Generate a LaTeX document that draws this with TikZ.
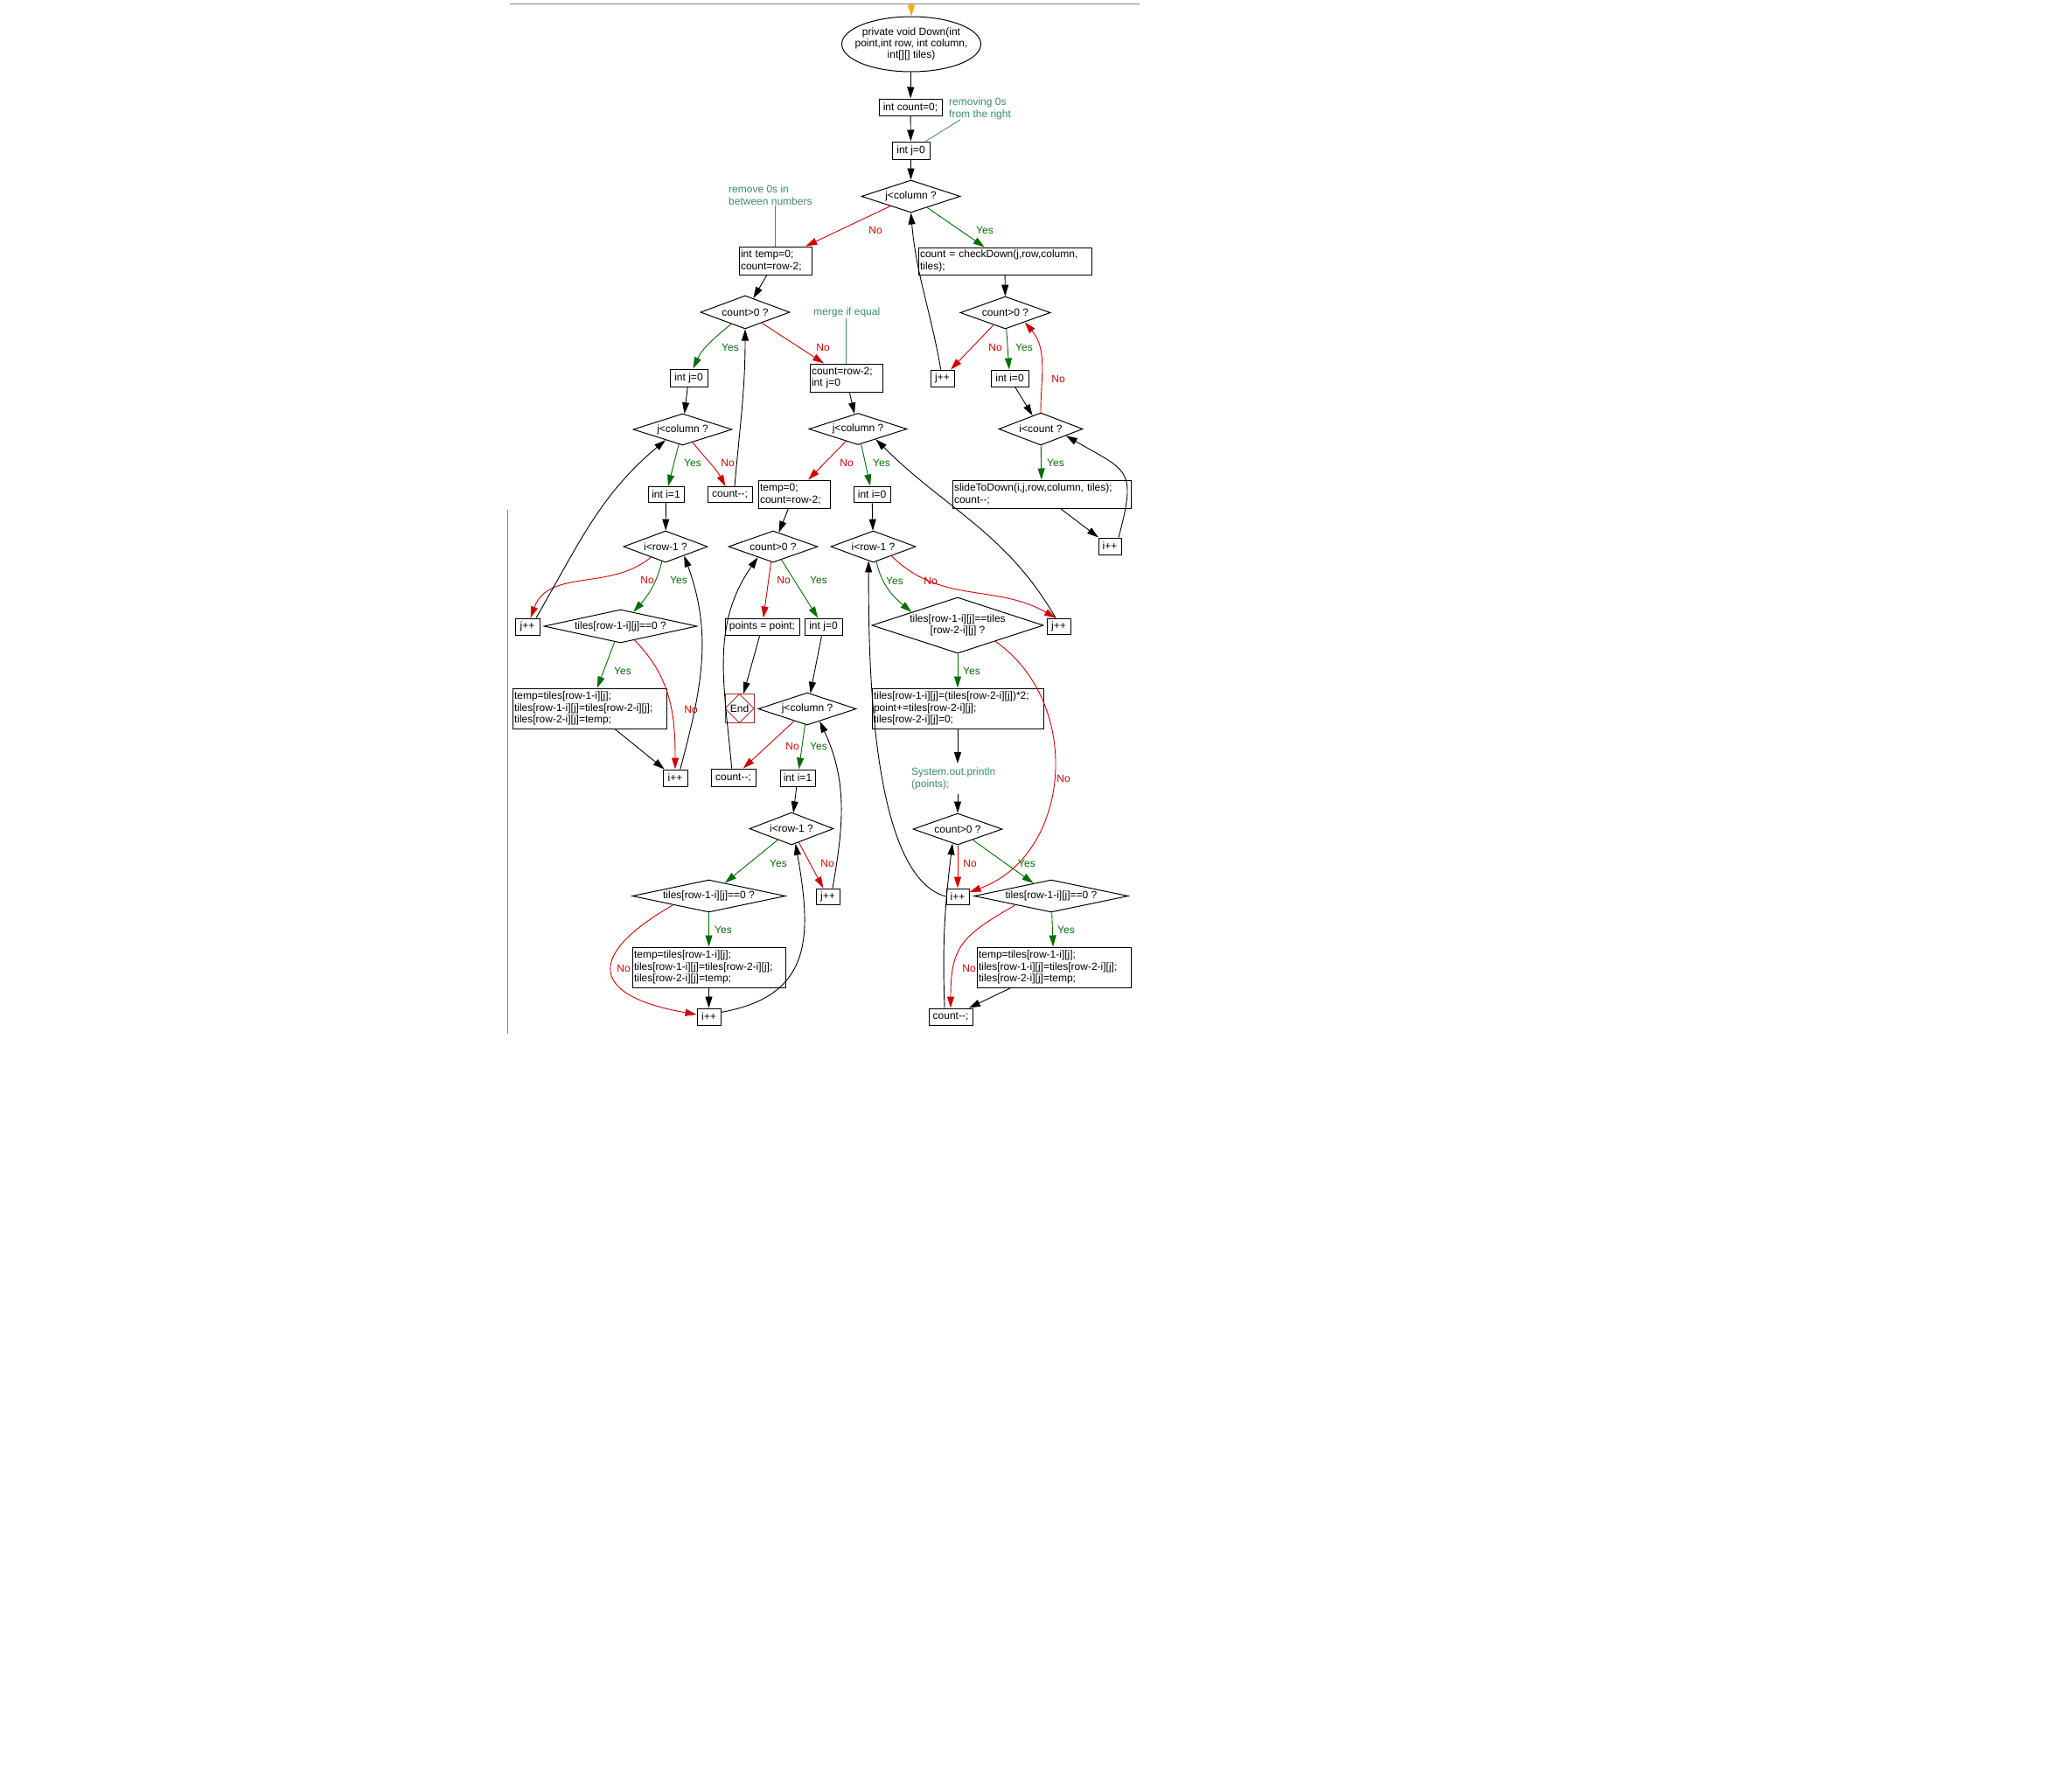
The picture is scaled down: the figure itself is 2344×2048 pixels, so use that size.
\documentclass[tikz,border=0pt]{standalone}
\usepackage{fontspec}
\setmainfont{Liberation Sans}
\usetikzlibrary{arrows.meta,shapes.geometric}

\definecolor{noRed}{RGB}{210,0,0}
\definecolor{yesGreen}{RGB}{0,110,0}
\definecolor{noteTeal}{RGB}{60,140,110}
\definecolor{endRed}{RGB}{170,40,40}
\definecolor{entryOrange}{RGB}{255,170,0}
\definecolor{frameGray}{RGB}{128,128,128}

\tikzset{
	every node/.append style = { font = \fontsize{12pt}{13.3pt}\selectfont },
	proc/.style = { draw, rectangle, line width = 1pt, inner sep = 0pt },
	procl/.style = { proc, align = left, inner xsep = 2pt },
	decision/.style = { draw, diamond, line width = 1pt, inner sep = 0pt, aspect = 3 },
	terminal/.style = { draw, ellipse, line width = 1pt, align = center, inner xsep = -20pt, inner ysep = 0pt },
	endbox/.style = { draw = endRed, rectangle, line width = 1pt, minimum size = 33pt, inner sep = 0pt,
		path picture = { \draw [endRed, line width = 1pt] (path picture bounding box.north) -- (path picture bounding box.east) -- (path picture bounding box.south) -- (path picture bounding box.west) -- cycle; } },
	note/.style = { text = noteTeal, align = left, inner sep = 0pt, anchor = north west },
	noteline/.style = { draw = noteTeal, line width = 0.8pt },
	flow/.style = { draw, line width = 0.9pt, -{Triangle[length = 13pt, width = 8pt]} },
	noflow/.style = { flow, draw = noRed },
	yesflow/.style = { flow, draw = yesGreen },
	entryarrow/.style = { flow, draw = entryOrange },
	nolabel/.style = { text = noRed, inner sep = 0pt },
	yeslabel/.style = { text = yesGreen, inner sep = 0pt }
}

\begin{document}
\begin{tikzpicture}[x = 1pt, y = -1pt]
		\fill [white] ( 0, 0 ) rectangle ( 2344, 2048 );
		\useasboundingbox ( 0, 0 ) rectangle ( 2344, 2048 );

		% рамка
		\draw [frameGray, line width = 1.2pt] ( 583, 4.5 ) -- ( 1303, 4.5 );
		\draw [frameGray, line width = 1pt] ( 580.5, 583 ) -- ( 580.5, 1182 );

		% блоки
		\coordinate (entry) at ( 1042, 5 );
		\node (start) [terminal, minimum width = 159, minimum height = 63] at ( 1042, 50.5 ) {private void Down(int\\point,int row, int column,\\int[][] tiles)};
		\node (cnt0) [proc, minimum width = 72, minimum height = 19] at ( 1041, 122.5 ) {int count=0;};
		\node (note1) [note] at ( 1085, 112 ) {removing 0s\\from the right};
		\node (jinit) [proc, minimum width = 43, minimum height = 20] at ( 1041.5, 172 ) {int j=0};
		\node (d1) [decision, minimum width = 113, minimum height = 37] at ( 1041.5, 224.5 ) {j<column ?};
		\node (note2) [note] at ( 833, 212 ) {remove 0s in\\between numbers};
		\node (tempbox) [procl, text width = 79pt, minimum height = 32] at ( 886.5, 298 ) {int temp=0;\\count=row-2;};
		\node (checkbox) [procl, text width = 194pt, minimum height = 31] at ( 1149, 298.5 ) {count = checkDown(j,row,column,\\tiles);};
		\node (d3) [decision, minimum width = 102, minimum height = 38] at ( 852, 357 ) {count>0 ?};
		\node (d2) [decision, minimum width = 103, minimum height = 37] at ( 1149.5, 357.5 ) {count>0 ?};
		\node (note3) [note] at ( 930, 352 ) {merge if equal};
		\node (jinitL) [proc, minimum width = 43, minimum height = 20] at ( 787.5, 432 ) {int j=0};
		\node (cjbox) [procl, text width = 79pt, minimum height = 32] at ( 967.5, 432 ) {count=row-2;\\int j=0};
		\node (jnext1) [proc, minimum width = 27, minimum height = 19] at ( 1077.5, 432.5 ) {j++};
		\node (inext) [proc, minimum width = 43, minimum height = 19] at ( 1154.5, 432.5 ) {int i=0};
		\node (d4) [decision, minimum width = 113, minimum height = 36] at ( 780.5, 491 ) {j<column ?};
		\node (d8) [decision, minimum width = 112, minimum height = 36] at ( 981, 490.5 ) {j<column ?};
		\node (d14) [decision, minimum width = 96, minimum height = 37] at ( 1190, 490.5 ) {i<count ?};
		\node (iinitL) [proc, minimum width = 41, minimum height = 18] at ( 761.5, 565.5 ) {int i=1};
		\node (cntL) [proc, minimum width = 51, minimum height = 18] at ( 834.5, 565.5 ) {count-\kern0pt-;};
		\node (tempM) [procl, text width = 78pt, minimum height = 32] at ( 908, 565 ) {temp=0;\\count=row-2;};
		\node (iinitM) [proc, minimum width = 42, minimum height = 18] at ( 997, 565 ) {int i=0};
		\node (slidebox) [procl, text width = 200pt, minimum height = 32] at ( 1191, 565 ) {slideToDown(i,j,row,column, tiles);\\count-\kern0pt-;};
		\node (d5) [decision, minimum width = 96, minimum height = 36] at ( 761, 625 ) {i<row-1 ?};
		\node (d7) [decision, minimum width = 102, minimum height = 36] at ( 884, 625 ) {count>0 ?};
		\node (d12) [decision, minimum width = 97, minimum height = 36] at ( 998.5, 625 ) {i<row-1 ?};
		\node (inc4) [proc, minimum width = 26, minimum height = 19] at ( 1269, 624.5 ) {i++};
		\node (jnext2) [proc, minimum width = 28, minimum height = 19] at ( 603, 716.5 ) {j++};
		\node (d6) [decision, aspect = 4.7, minimum width = 175, minimum height = 38] at ( 709.5, 716 ) {tiles[row-1-i][j]==0 ?};
		\node (pointsbox) [proc, minimum width = 85, minimum height = 19] at ( 871.5, 716.5 ) {points = point;};
		\node (jinitM) [proc, minimum width = 43, minimum height = 19] at ( 941.5, 716.5 ) {int j=0};
		\node (d13) [decision, minimum width = 196, minimum height = 64, align = center] at ( 1095, 715 ) {tiles[row-1-i][j]==tiles\\{}[row-2-i][j] ?};
		\node (jnext4) [proc, minimum width = 27, minimum height = 18] at ( 1210.5, 716 ) {j++};
		\node (swapL) [procl, text width = 172pt, minimum height = 46] at ( 674, 810 ) {temp=tiles[row-1-i][j];\\tiles[row-1-i][j]=tiles[row-2-i][j];\\tiles[row-2-i][j]=temp;};
		\node (stop) [endbox] at ( 845.5, 810 ) {End};
		\node (d9) [decision, minimum width = 112, minimum height = 37] at ( 923, 810.5 ) {j<column ?};
		\node (mergebox) [procl, text width = 192pt, minimum height = 46] at ( 1095, 810 ) {tiles[row-1-i][j]=(tiles[row-2-i][j])*2;\\point+=tiles[row-2-i][j];\\tiles[row-2-i][j]=0;};
		\node (inc1) [proc, minimum width = 28, minimum height = 19] at ( 772, 889.5 ) {i++};
		\node (cntM) [proc, minimum width = 51, minimum height = 20] at ( 838.5, 889 ) {count-\kern0pt-;};
		\node (iinitMi) [proc, minimum width = 40, minimum height = 19] at ( 912, 889.5 ) {int i=1};
		\node (sysnote) [note, inner ysep = 5pt] at ( 1042, 873 ) {System.out.println\\(points);};
		\node (d10) [decision, minimum width = 96, minimum height = 37] at ( 905, 947.5 ) {i<row-1 ?};
		\node (d15) [decision, minimum width = 102, minimum height = 36] at ( 1095, 948 ) {count>0 ?};
		\node (d11) [decision, aspect = 4.7, minimum width = 175, minimum height = 37] at ( 810.5, 1024.5 ) {tiles[row-1-i][j]==0 ?};
		\node (jnext3) [proc, minimum width = 27, minimum height = 18] at ( 946.5, 1025 ) {j++};
		\node (inc3) [proc, minimum width = 26, minimum height = 18] at ( 1095, 1025 ) {i++};
		\node (d16) [decision, aspect = 4.7, minimum width = 176, minimum height = 37] at ( 1202, 1024.5 ) {tiles[row-1-i][j]==0 ?};
		\node (swapM) [procl, text width = 171pt, minimum height = 46] at ( 810.5, 1106 ) {temp=tiles[row-1-i][j];\\tiles[row-1-i][j]=tiles[row-2-i][j];\\tiles[row-2-i][j]=temp;};
		\node (swapR) [procl, text width = 172pt, minimum height = 46] at ( 1205, 1106 ) {temp=tiles[row-1-i][j];\\tiles[row-1-i][j]=tiles[row-2-i][j];\\tiles[row-2-i][j]=temp;};
		\node (inc2) [proc, minimum width = 27, minimum height = 19] at ( 810.5, 1162.5 ) {i++};
		\node (cnt3) [proc, minimum width = 50, minimum height = 19] at ( 1087, 1162.5 ) {count-\kern0pt-;};

		% удаление нулей справа
		\draw [entryarrow] (entry) -- (start);
		\draw [flow] (start) -- (cnt0);
		\draw [flow] (cnt0) -- (jinit);
		\draw [flow] (jinit) -- (d1);
		\draw [noteline] ([xshift = 13pt]note1.south west) -- ([xshift = -5pt]jinit.north east);
		\draw [yesflow] (d1) -- (checkbox) node (yes1) [yeslabel] at ( 1126, 263 ) {Yes};
		\draw [noflow] (d1) -- (tempbox) node (no1) [nolabel] at ( 1001, 263 ) {No};
		\draw [flow] (checkbox) -- (d2);
		\draw [yesflow] (d2) -- (inext) node (yes2) [yeslabel] at ( 1171, 397 ) {Yes};
		\draw [noflow] (d2) -- (jnext1) node (no2) [nolabel] at ( 1138, 397 ) {No};
		\draw [flow] (jnext1.100) to [ out = 100, in = -85 ] (d1.south);
		\draw [flow] (inext) -- (d14);
		\draw [yesflow] (d14) -- (slidebox) node (yes3) [yeslabel] at ( 1207, 529 ) {Yes};
		\draw [noflow] (d14.north) to [ out = 90, in = -50 ] (d2.-26) node (no3) [nolabel] at ( 1210, 433 ) {No};
		\draw [flow] (slidebox) -- (inc4);
		\draw [flow] (inc4.45) to [ out = 75, in = -30, looseness = 1.6 ] (d14.-15);

		% удаление нулей между числами
		\draw [noteline] (tempbox.north |- note2.south) -- (tempbox.north);
		\draw [flow] (tempbox) -- (d3);
		\draw [yesflow] (d3) to [ out = -140, in = 65 ] (jinitL) node (yes4) [yeslabel] at ( 835, 397 ) {Yes};
		\draw [noflow] (d3) -- (cjbox) node (no4) [nolabel] at ( 941, 397 ) {No};
		\draw [flow] (jinitL) -- (d4);
		\draw [yesflow] (d4) -- (iinitL) node (yes5) [yeslabel] at ( 792, 529 ) {Yes};
		\draw [noflow] (d4) to [ out = -52, in = 118 ] (cntL) node (no5) [nolabel] at ( 832, 529 ) {No};
		\draw [flow] (cntL.60) to [ out = 85, in = -90 ] (d3.south);
		\draw [flow] (iinitL) -- (d5);
		\draw [yesflow] (d5) to [ out = -104, in = 48 ] (d6) node (yes6) [yeslabel] at ( 776, 663 ) {Yes};
		\draw [noflow] (d5.-144) to [ out = -140, in = 70 ] (jnext2) node (no6) [nolabel] at ( 740, 663 ) {No};
		\draw [flow] (jnext2.45) to [ out = 60, in = -140 ] (d4.-148);
		\draw [yesflow] (d6) -- (swapL) node (yes7) [yeslabel] at ( 712, 767 ) {Yes};
		\draw [noflow] (d6) to [ out = -45, in = 90 ] (inc1) node (no7) [nolabel] at ( 790, 811 ) {No};
		\draw [flow] (swapL) -- (inc1);
		\draw [flow] (inc1.60) to [ out = 75, in = -70 ] (d5.-26);

		% слияние равных
		\draw [noteline] (cjbox.north |- note3.south) -- (cjbox.north);
		\draw [flow] (cjbox) -- (d8);
		\draw [noflow] (d8) -- (tempM) node (no8) [nolabel] at ( 968, 529 ) {No};
		\draw [yesflow] (d8) -- (iinitM) node (yes8) [yeslabel] at ( 1008, 529 ) {Yes};
		\draw [flow] (tempM) -- (d7);
		\draw [noflow] (d7) -- (pointsbox) node (no9) [nolabel] at ( 896, 663 ) {No};
		\draw [yesflow] (d7) -- (jinitM) node (yes9) [yeslabel] at ( 936, 663 ) {Yes};
		\draw [flow] (pointsbox) -- (stop);
		\draw [flow] (jinitM) -- (d9);
		\draw [noflow] (d9) -- (cntM) node (no10) [nolabel] at ( 906, 853 ) {No};
		\draw [yesflow] (d9) -- (iinitMi) node (yes10) [yeslabel] at ( 936, 853 ) {Yes};
		\draw [flow] (cntM.100) to [ out = 95, in = -125 ] (d7.-145);
		\draw [flow] (iinitMi) -- (d10);
		\draw [yesflow] (d10) -- (d11) node (yes11) [yeslabel] at ( 890, 987 ) {Yes};
		\draw [noflow] (d10) -- (jnext3) node (no11) [nolabel] at ( 946, 987 ) {No};
		\draw [flow] (jnext3.60) to [ out = 80, in = -65 ] (d9.-45);
		\draw [yesflow] (d11) -- (swapM) node (yes12) [yeslabel] at ( 827, 1063 ) {Yes};
		\draw [noflow] (d11.-166) to [ out = -150, in = 170, looseness = 2.4 ] (inc2) node (no12) [nolabel] at ( 713, 1107 ) {No};
		\draw [flow] (swapM) -- (inc2);
		\draw [flow] (inc2.20) to [ out = 10, in = -80, looseness = 1.3 ] (d10.-75);

		% сдвиг после слияния
		\draw [flow] (iinitM) -- (d12);
		\draw [yesflow] (d12) to [ out = -78, in = 140 ] (d13.164) node (yes13) [yeslabel] at ( 1023, 664 ) {Yes};
		\draw [noflow] (d12.-27) to [ out = -45, in = 150 ] (jnext4.110) node (no13) [nolabel] at ( 1064, 664 ) {No};
		\draw [flow] (jnext4.110) to [ out = 120, in = -45 ] (d8.-30);
		\draw [yesflow] (d13) -- (mergebox) node (yes14) [yeslabel] at ( 1111, 767 ) {Yes};
		\draw [noflow] (d13.-23) to [ out = -35, in = 20, looseness = 1.1 ] (inc3) node (no14) [nolabel] at ( 1216, 890 ) {No};
		\draw [flow] (mergebox) -- (mergebox |- sysnote.north);
		\draw [flow] (d15 |- sysnote.south) -- (d15);
		\draw [noflow] (d15) -- (inc3) node (no15) [nolabel] at ( 1109, 987 ) {No};
		\draw [yesflow] (d15) -- (d16) node (yes15) [yeslabel] at ( 1174, 987 ) {Yes};
		\draw [flow] (inc3.west) to [ out = 165, in = -90, looseness = 0.6 ] (d12.-108);
		\draw [yesflow] (d16) -- (swapR) node (yes16) [yeslabel] at ( 1219, 1063 ) {Yes};
		\draw [noflow] (d16.-166) to [ out = -150, in = 90, looseness = 1.3 ] (cnt3) node (no16) [nolabel] at ( 1108, 1107 ) {No};
		\draw [flow] (swapR) -- (cnt3);
		\draw [flow] (cnt3.125) to [ out = 92, in = -97 ] (d15.-110);
	\end{tikzpicture}
\end{document}
